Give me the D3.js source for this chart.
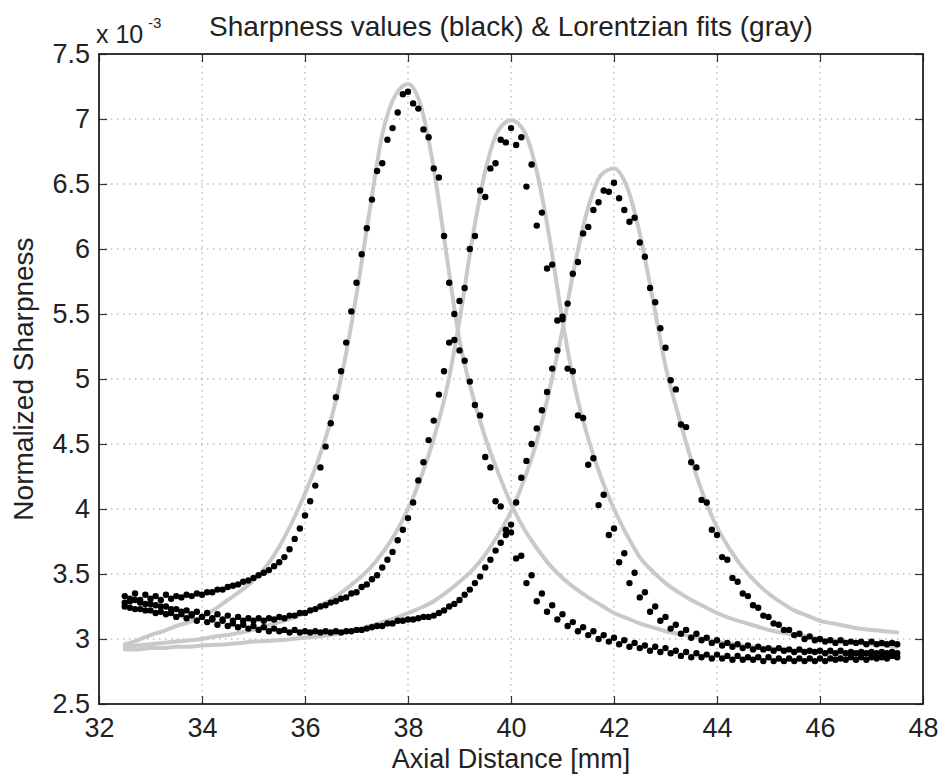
<!DOCTYPE html>
<html>
<head>
<meta charset="utf-8">
<script src="https://cdn.jsdelivr.net/npm/d3@7"></script>
<style>
  body { margin: 0; background: #fff; }
  text { font-family: "Liberation Sans", Arial, sans-serif; fill: #222; }
</style>
</head>
<body>
<svg id="chart"></svg>
<script>
// sample positions of the measurements (mm)
const axial_mm = [32.5,32.6,32.7,32.8,32.9,33,33.1,33.2,33.3,33.4,33.5,33.6,33.7,33.8,33.9,34,34.1,34.2,34.3,34.4,34.5,34.6,34.7,34.8,34.9,35,35.1,35.2,35.3,35.4,35.5,35.6,35.7,35.8,35.9,36,36.1,36.2,36.3,36.4,36.5,36.6,36.7,36.8,36.9,37,37.1,37.2,37.3,37.4,37.5,37.6,37.7,37.8,37.9,38,38.1,38.2,38.3,38.4,38.5,38.6,38.7,38.8,38.9,39,39.1,39.2,39.3,39.4,39.5,39.6,39.7,39.8,39.9,40,40.1,40.2,40.3,40.4,40.5,40.6,40.7,40.8,40.9,41,41.1,41.2,41.3,41.4,41.5,41.6,41.7,41.8,41.9,42,42.1,42.2,42.3,42.4,42.5,42.6,42.7,42.8,42.9,43,43.1,43.2,43.3,43.4,43.5,43.6,43.7,43.8,43.9,44,44.1,44.2,44.3,44.4,44.5,44.6,44.7,44.8,44.9,45,45.1,45.2,45.3,45.4,45.5,45.6,45.7,45.8,45.9,46,46.1,46.2,46.3,46.4,46.5,46.6,46.7,46.8,46.9,47,47.1,47.2,47.3,47.4,47.5];

// sharpness values (x 1e-3), one array per focus position
const sharp_38 = [3.33,3.29,3.35,3.30,3.34,3.31,3.33,3.30,3.34,3.31,3.33,3.32,3.34,3.33,3.35,3.34,3.36,3.36,3.38,3.38,3.40,3.41,3.42,3.44,3.45,3.47,3.49,3.51,3.53,3.56,3.59,3.63,3.69,3.77,3.85,3.95,4.06,4.18,4.32,4.48,4.66,4.86,5.06,5.28,5.52,5.74,5.96,6.16,6.38,6.60,6.66,6.84,6.93,7.05,7.19,7.21,7.12,7.08,6.92,6.86,6.62,6.55,6.10,5.74,5.30,5.22,5.14,4.98,4.80,4.72,4.40,4.32,4.06,4.02,3.84,3.82,3.62,3.64,3.43,3.49,3.29,3.35,3.21,3.26,3.15,3.19,3.10,3.13,3.06,3.09,3.03,3.06,3.00,3.03,2.98,3.01,2.96,2.99,2.94,2.97,2.93,2.95,2.91,2.94,2.90,2.93,2.89,2.91,2.87,2.90,2.86,2.89,2.86,2.88,2.85,2.88,2.85,2.87,2.84,2.87,2.84,2.86,2.84,2.86,2.83,2.86,2.83,2.85,2.83,2.85,2.83,2.85,2.83,2.85,2.83,2.85,2.83,2.85,2.84,2.85,2.84,2.86,2.84,2.86,2.84,2.86,2.85,2.86,2.85,2.87,2.86];
const sharp_40 = [3.28,3.24,3.30,3.23,3.27,3.22,3.26,3.21,3.25,3.20,3.23,3.19,3.22,3.18,3.21,3.17,3.20,3.16,3.19,3.15,3.18,3.14,3.17,3.14,3.16,3.14,3.16,3.14,3.16,3.15,3.17,3.16,3.18,3.18,3.20,3.20,3.22,3.23,3.25,3.26,3.28,3.29,3.31,3.32,3.35,3.36,3.40,3.42,3.46,3.49,3.55,3.61,3.67,3.76,3.84,3.93,4.05,4.22,4.36,4.53,4.68,4.88,5.06,5.28,5.50,5.60,5.70,6.00,6.10,6.45,6.40,6.62,6.66,6.84,6.82,6.93,6.80,6.86,6.48,6.65,6.18,6.28,5.85,5.88,5.45,5.48,5.08,5.06,4.72,4.70,4.34,4.39,4.03,4.11,3.80,3.85,3.59,3.66,3.43,3.51,3.32,3.36,3.21,3.25,3.14,3.17,3.08,3.11,3.04,3.07,3.01,3.04,2.99,3.01,2.97,2.99,2.95,2.97,2.94,2.96,2.93,2.95,2.92,2.94,2.92,2.93,2.91,2.93,2.91,2.92,2.90,2.92,2.90,2.91,2.90,2.91,2.89,2.91,2.89,2.91,2.89,2.90,2.89,2.90,2.89,2.90,2.89,2.90,2.89,2.90,2.89];
const sharp_42 = [3.25,3.31,3.23,3.28,3.22,3.27,3.20,3.25,3.19,3.23,3.17,3.21,3.16,3.19,3.14,3.17,3.13,3.15,3.11,3.14,3.10,3.12,3.09,3.11,3.08,3.10,3.07,3.09,3.06,3.08,3.06,3.07,3.05,3.07,3.05,3.06,3.05,3.06,3.05,3.06,3.05,3.06,3.05,3.06,3.06,3.07,3.07,3.08,3.09,3.10,3.10,3.12,3.12,3.14,3.14,3.15,3.15,3.16,3.17,3.17,3.18,3.20,3.22,3.25,3.27,3.30,3.34,3.38,3.43,3.48,3.55,3.61,3.68,3.74,3.80,3.88,4.05,4.24,4.37,4.50,4.62,4.76,4.90,5.08,5.22,5.46,5.58,5.81,5.90,6.12,6.17,6.30,6.36,6.45,6.44,6.51,6.39,6.30,6.21,6.24,6.05,5.94,5.70,5.59,5.39,5.24,4.99,4.92,4.65,4.63,4.36,4.32,4.07,4.05,3.84,3.80,3.63,3.61,3.47,3.44,3.35,3.33,3.26,3.24,3.18,3.17,3.12,3.11,3.07,3.07,3.03,3.04,3.00,3.02,2.99,3.00,2.98,2.99,2.97,2.99,2.97,2.98,2.97,2.98,2.96,2.98,2.96,2.97,2.96,2.97,2.96];

const fit_mm = [32.5,32.75,33,33.25,33.5,33.75,34,34.25,34.5,34.75,35,35.25,35.5,35.75,36,36.25,36.5,36.75,37,37.25,37.5,37.75,38,38.25,38.5,38.75,39,39.25,39.5,39.75,40,40.25,40.5,40.75,41,41.25,41.5,41.75,42,42.25,42.5,42.75,43,43.25,43.5,43.75,44,44.25,44.5,44.75,45,45.25,45.5,45.75,46,46.25,46.5,46.75,47,47.25,47.5];
const fit_38 = [2.96,2.99,3.03,3.06,3.10,3.13,3.17,3.23,3.30,3.37,3.45,3.56,3.71,3.90,4.12,4.37,4.68,5.10,5.65,6.28,6.88,7.18,7.27,7.10,6.62,5.95,5.30,4.88,4.55,4.28,4.04,3.85,3.70,3.57,3.47,3.39,3.32,3.26,3.20,3.16,3.12,3.09,3.06,3.04,3.02,3.00,2.98,2.965,2.95,2.94,2.93,2.92,2.91,2.905,2.90,2.89,2.88,2.875,2.87,2.865,2.86];
const fit_40 = [2.94,2.95,2.96,2.97,2.98,2.99,3.00,3.02,3.03,3.05,3.07,3.10,3.13,3.16,3.20,3.25,3.30,3.37,3.45,3.54,3.66,3.81,4.00,4.24,4.54,4.92,5.45,6.08,6.60,6.91,6.99,6.91,6.60,6.08,5.45,4.92,4.54,4.24,4.00,3.80,3.63,3.52,3.43,3.36,3.30,3.25,3.20,3.16,3.13,3.10,3.07,3.05,3.03,3.02,3.00,2.99,2.98,2.97,2.96,2.95,2.94];
const fit_42 = [2.92,2.92,2.93,2.93,2.94,2.94,2.95,2.955,2.96,2.97,2.98,2.985,2.99,3.00,3.01,3.02,3.03,3.05,3.07,3.10,3.13,3.16,3.20,3.24,3.29,3.36,3.44,3.53,3.65,3.80,3.98,4.22,4.52,4.92,5.38,5.90,6.32,6.57,6.62,6.48,6.12,5.62,5.10,4.72,4.38,4.09,3.86,3.69,3.55,3.44,3.35,3.28,3.22,3.18,3.14,3.12,3.10,3.08,3.07,3.06,3.05];

// axis ticks
const x_ticks = [32,34,36,38,40,42,44,46,48];
const y_ticks = [2.5,3,3.5,4,4.5,5,5.5,6,6.5,7,7.5];
const y_tick_labels = ["2.5","3","3.5","4","4.5","5","5.5","6","6.5","7","7.5"];

const margin = {top: 54, right: 17, bottom: 72, left: 99},
      width = 940 - margin.left - margin.right,
      height = 776 - margin.top - margin.bottom;

const svg = d3.select("#chart")
    .attr("width", 940)
    .attr("height", 776);

const g = svg.append("g")
    .attr("transform", "translate(" + margin.left + "," + margin.top + ")");

const xScale = d3.scaleLinear().domain([32, 48]).range([0, width]);
const yScale = d3.scaleLinear().domain([2.5, 7.5]).range([height, 0]);

//dotted grid
g.append("g").attr("class", "grid")
    .selectAll("line.vx")
    .data(x_ticks.slice(1, -1))
    .enter().append("line")
    .attr("x1", d => xScale(d)).attr("x2", d => xScale(d))
    .attr("y1", 0).attr("y2", height)
    .attr("stroke", "#9a9a9a")
    .attr("stroke-width", 1)
    .attr("stroke-dasharray", "1.5,4.5");

g.append("g").attr("class", "grid")
    .selectAll("line.hy")
    .data(y_ticks.slice(1, -1))
    .enter().append("line")
    .attr("x1", 0).attr("x2", width)
    .attr("y1", d => yScale(d)).attr("y2", d => yScale(d))
    .attr("stroke", "#9a9a9a")
    .attr("stroke-width", 1)
    .attr("stroke-dasharray", "1.5,4.5");

//axes with inward ticks on all four sides
g.append("g")
    .attr("class", "x-axis")
    .attr("transform", "translate(0," + height + ")")
    .call(d3.axisBottom(xScale).tickValues(x_ticks).tickSize(-8).tickPadding(14)
        .tickFormat(d => String(d)));

g.append("g")
    .attr("class", "y-axis")
    .call(d3.axisLeft(yScale).tickValues(y_ticks).tickSize(-8).tickPadding(9)
        .tickFormat((d, i) => y_tick_labels[i]));

g.append("g")
    .call(d3.axisTop(xScale).tickValues(x_ticks).tickSize(-8).tickFormat(""));

g.append("g")
    .attr("transform", "translate(" + width + ",0)")
    .call(d3.axisRight(yScale).tickValues(y_ticks).tickSize(-8).tickFormat(""));

g.selectAll(".domain").remove();
g.selectAll(".tick line").attr("stroke", "#333").attr("stroke-width", 1.2);
g.selectAll(".tick text")
    .attr("font-size", 27)
    .attr("fill", "#222")
    .style("font-family", "'Liberation Sans', Arial, sans-serif");

//fits (gray)
const fitLine = d3.line()
    .x(d => xScale(d[0]))
    .y(d => yScale(d[1]))
    .curve(d3.curveMonotoneX);

[fit_38, fit_40, fit_42].forEach(function (fit) {
    g.append("path")
        .datum(fit_mm.map((x, i) => [x, fit[i]]))
        .attr("d", fitLine)
        .attr("fill", "none")
        .attr("stroke", "#c9c9c9")
        .attr("stroke-width", 4)
        .attr("stroke-linecap", "round");
});

//sharpness values (black)
[sharp_38, sharp_40, sharp_42].forEach(function (series) {
    g.append("g")
        .selectAll("circle")
        .data(axial_mm.map((x, i) => [x, series[i]]))
        .enter().append("circle")
        .attr("cx", d => xScale(d[0]))
        .attr("cy", d => yScale(d[1]))
        .attr("r", 3.2)
        .attr("fill", "#000");
});

//box
g.append("rect")
    .attr("x", 0).attr("y", 0)
    .attr("width", width).attr("height", height)
    .attr("fill", "none")
    .attr("stroke", "#222")
    .attr("stroke-width", 1.8);

//labels
svg.append("text")
    .attr("x", margin.left + width / 2)
    .attr("y", 36)
    .attr("text-anchor", "middle")
    .attr("font-size", 28)
    .text("Sharpness values (black) & Lorentzian fits (gray)");

svg.append("text")
    .attr("x", margin.left + width / 2)
    .attr("y", 768)
    .attr("text-anchor", "middle")
    .attr("font-size", 27)
    .text("Axial Distance [mm]");

svg.append("text")
    .attr("transform", "translate(33," + (margin.top + height / 2) + ") rotate(-90)")
    .attr("text-anchor", "middle")
    .attr("font-size", 28)
    .text("Normalized Sharpness");

//exponent note
svg.append("text")
    .attr("x", 96)
    .attr("y", 43)
    .attr("font-size", 25)
    .text("x 10");

svg.append("text")
    .attr("x", 148)
    .attr("y", 28)
    .attr("font-size", 15)
    .text("-3");
</script>
</body>
</html>
